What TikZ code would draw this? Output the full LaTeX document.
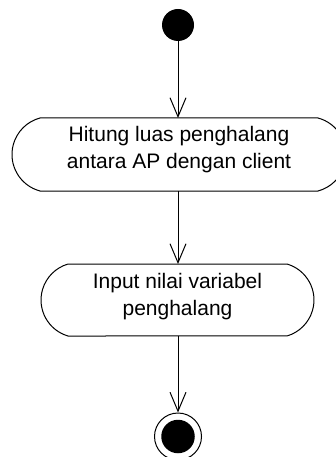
\documentclass[tikz,border=0pt]{standalone}
\usepackage{fontspec}
\setmainfont{Liberation Sans}
\usetikzlibrary{arrows.meta}
\begin{document}
\begin{tikzpicture}[x=1pt,y=-1pt,line width=1pt,
  arr/.style={-{Straight Barb[length=19pt,width=16pt]}},
  txt/.style={align=center,font=\fontsize{21}{27}\selectfont,inner sep=0pt},
  frame/.style={draw=none,inner sep=0pt,outer sep=0pt},
  startdot/.style={circle,fill=black,inner sep=0pt,minimum size=32pt},
  endring/.style={circle,draw=black,line width=1pt,inner sep=0pt,minimum size=47pt},
  enddot/.style={circle,fill=black,inner sep=0pt,minimum size=33.5pt}]
\useasboundingbox[fill=white] (0,0) rectangle (335,457);
% start
\node[startdot] (start) at (178,25) {};
% activity 1
\node[frame,minimum width=278pt,minimum height=73pt] (b1) at (179,154.5) {};
\draw (b1.north west) -- (b1.north east)
  arc[start angle=75,end angle=-75,radius=37.8pt] -- (b1.south west)
  arc[start angle=255,end angle=105,radius=37.8pt] -- cycle;
\node[txt] (t1) at (179,150) {Hitung luas penghalang\\antara AP dengan client};
% activity 2
\node[frame,minimum width=219pt,minimum height=72pt] (b2) at (177.5,300) {};
\draw (b2.north west) -- (b2.north east)
  arc[start angle=73.7,end angle=-73.7,radius=37.5pt] -- (b2.south west)
  arc[start angle=253.7,end angle=106.3,radius=37.5pt] -- cycle;
\node[txt] (t2) at (177.5,297) {Input nilai variabel\\penghalang};
% end
\node[endring] (end) at (178,436.5) {};
\node[enddot] (enddot) at (end.center) {};
% connectors
\draw[arr] (start.south) -- (start.south |- b1.north);
\draw[arr] (start.south |- b1.south) -- (start.south |- b2.north);
\draw[arr] (start.south |- b2.south) -- (end.north);
\end{tikzpicture}
\end{document}
